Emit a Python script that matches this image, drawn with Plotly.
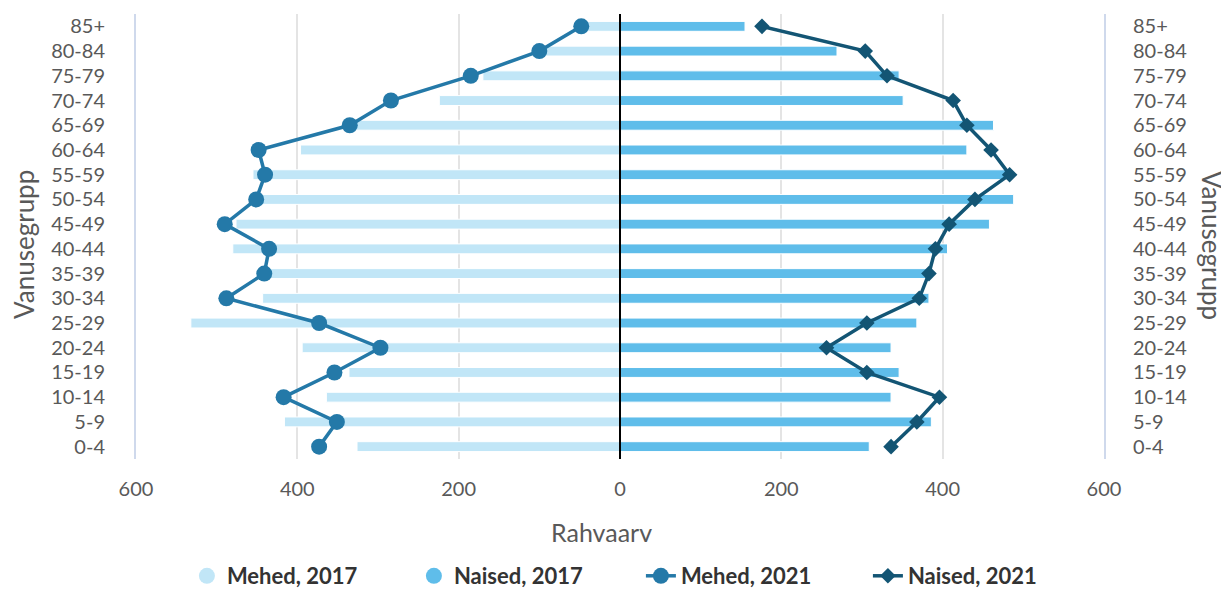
import plotly.graph_objects as go

ages = ["0-4", "5-9", "10-14", "15-19", "20-24", "25-29", "30-34", "35-39", "40-44",
        "45-49", "50-54", "55-59", "60-64", "65-69", "70-74", "75-79", "80-84", "85+"]
mehed_2017 = [326, 416, 364, 336, 394, 532, 443, 440, 480, 476, 450, 455, 396, 330, 224, 170, 95, 45]
naised_2017 = [309, 386, 336, 346, 336, 368, 383, 385, 406, 458, 488, 480, 430, 463, 351, 346, 269, 155]
mehed_2021 = [373, 351, 417, 354, 297, 373, 488, 441, 435, 490, 451, 440, 448, 335, 284, 185, 100, 48]
naised_2021 = [336, 368, 396, 306, 256, 306, 371, 383, 391, 408, 440, 483, 460, 430, 413, 331, 304, 176]
x_ticks = [-600, -400, -200, 0, 200, 400, 600]
x_ticktext = ["600", "400", "200", "0", "200", "400", "600"]

C_M17 = "#c1e6f7"
C_N17 = "#5fbdea"
C_M21 = "#2479a8"
C_N21 = "#135574"
FAM = "Lato, Open Sans, sans-serif"
TICK_FONT = dict(family=FAM, size=20, color="#595959")
TITLE_COLOR = "#595959"

fig = go.Figure()
fig.add_trace(go.Bar(y=ages, x=[-v for v in mehed_2017], orientation="h", width=0.4,
                     marker=dict(color=C_M17, line=dict(color="white", width=1)),
                     name="Mehed, 2017", showlegend=False,
                     customdata=mehed_2017, hovertemplate="%{y}: %{customdata}<extra>Mehed, 2017</extra>"))
fig.add_trace(go.Bar(y=ages, x=naised_2017, orientation="h", width=0.4,
                     marker=dict(color=C_N17, line=dict(color="white", width=1)),
                     name="Naised, 2017", showlegend=False))
fig.add_trace(go.Scatter(y=ages, x=[-v for v in mehed_2021], mode="lines+markers",
                         line=dict(color=C_M21, width=3.5),
                         marker=dict(symbol="circle", size=16, color=C_M21),
                         name="Mehed, 2021", legendrank=3,
                         customdata=mehed_2021, hovertemplate="%{y}: %{customdata}<extra>Mehed, 2021</extra>"))
fig.add_trace(go.Scatter(y=ages, x=naised_2021, mode="lines+markers",
                         line=dict(color=C_N21, width=3.5),
                         marker=dict(symbol="diamond", size=12, color=C_N21),
                         name="Naised, 2021", legendrank=4, yaxis="y2"))
# legend-only entries with round symbols for the bar series
fig.add_trace(go.Scatter(x=[None], y=[None], mode="markers", name="Mehed, 2017",
                         marker=dict(symbol="circle", size=18, color=C_M17), legendrank=1))
fig.add_trace(go.Scatter(x=[None], y=[None], mode="markers", name="Naised, 2017",
                         marker=dict(symbol="circle", size=18, color=C_N17), legendrank=2))

fig.update_layout(
    width=1221, height=590,
    margin=dict(l=128, r=125, t=6, b=139),
    paper_bgcolor="white", plot_bgcolor="white",
    barmode="overlay",
    showlegend=True,
    legend=dict(orientation="h", xref="paper", x=0.5216, xanchor="center",
                yref="container", y=0.0373, yanchor="middle",
                font=dict(family=FAM, size=22, color="#333333", weight="bold"),
                entrywidth=182, itemsizing="trace"),
    xaxis=dict(range=[-600, 600], tickvals=x_ticks, ticktext=x_ticktext,
               showgrid=True, gridcolor="#e4e4e4", gridwidth=2,
               zeroline=False,
               tickfont=TICK_FONT, ticks="", ticklabelstandoff=16),
    yaxis=dict(type="category", categoryorder="array", categoryarray=ages, range=[-0.5, 17.5],
               tickmode="array", tickvals=ages, ticktext=ages,
               showgrid=False, showline=True, linecolor="#cfd9ec", linewidth=2,
               tickfont=TICK_FONT, ticks="", ticklabelstandoff=25),
    yaxis2=dict(type="category", categoryorder="array", categoryarray=ages, range=[-0.5, 17.5],
                tickmode="array", tickvals=ages, ticktext=ages,
                overlaying="y", side="right", showgrid=False, showline=True, linecolor="#cfd9ec", linewidth=2,
                tickfont=TICK_FONT, ticks="", ticklabelstandoff=23),
    shapes=[dict(type="line", xref="x", yref="paper", x0=0, x1=0, y0=0, y1=1,
                 line=dict(color="black", width=2), layer="above")],
    annotations=[
        dict(text="Rahvaarv", xref="paper", yref="paper", x=0.4814, y=-0.164,
             xanchor="center", yanchor="middle", showarrow=False,
             font=dict(family=FAM, size=25, color=TITLE_COLOR)),
        dict(text="Vanusegrupp", xref="paper", yref="paper", x=-0.1157, y=0.481,
             xanchor="center", yanchor="middle", textangle=-90, showarrow=False,
             font=dict(family=FAM, size=26, color=TITLE_COLOR)),
        dict(text="Vanusegrupp", xref="paper", yref="paper", x=1.1116, y=0.481,
             xanchor="center", yanchor="middle", textangle=90, showarrow=False,
             font=dict(family=FAM, size=26, color=TITLE_COLOR)),
    ],
)

fig.write_html("out.html")
